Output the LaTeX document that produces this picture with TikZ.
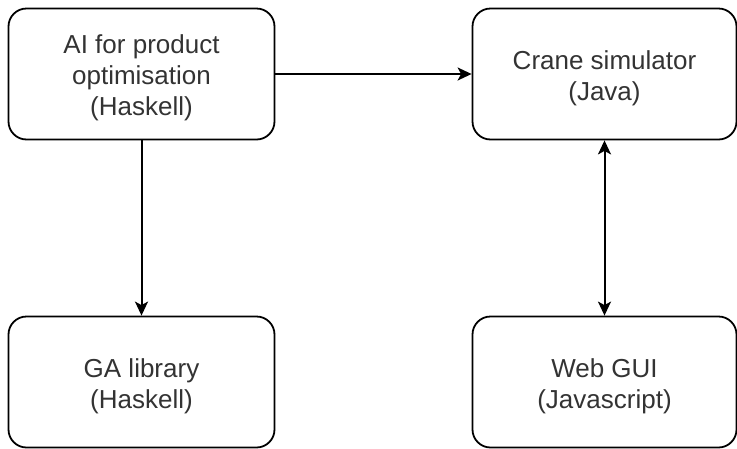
\documentclass[tikz,border=0pt]{standalone}
\usepackage{fontspec}
\setmainfont{Liberation Sans}
\usetikzlibrary{arrows.meta}
\begin{document}
\begin{tikzpicture}[x=1pt,y=-1pt,
  box/.style={draw=black, line width=1.8pt, rounded corners=18pt, minimum width=266pt,
    minimum height=131pt, inner sep=0pt},
  txt/.style={align=center, inner sep=0pt, yshift=-4pt,
    font=\fontsize{26}{31}\selectfont, text=black!80},
  tip/.style={Stealth[length=14pt,width=13pt,inset=3.5pt]},
  conn/.style={line width=2pt, -{Stealth[length=14pt,width=13pt,inset=3.5pt]}}]
\useasboundingbox (0,0) rectangle (737,448);
\node[box, label={[txt]center:{AI for product\\optimisation\\(Haskell)}}] (A) at (141.5,74) {};
\node[box, minimum width=264pt, label={[txt]center:{Crane simulator\\(Java)}}] (C) at (604.5,74) {};
\node[box, label={[txt]center:{GA library\\(Haskell)}}] (G) at (141.5,382) {};
\node[box, minimum width=264pt, label={[txt]center:{Web GUI\\(Javascript)}}] (W) at (604.5,382) {};
\draw[conn] (A) -- (C);
\draw[conn] (A) -- (G);
\draw[line width=2pt, {Stealth[length=14pt,width=13pt,inset=3.5pt]}-{Stealth[length=14pt,width=13pt,inset=3.5pt]}] (C) -- (W);
\end{tikzpicture}
\end{document}
